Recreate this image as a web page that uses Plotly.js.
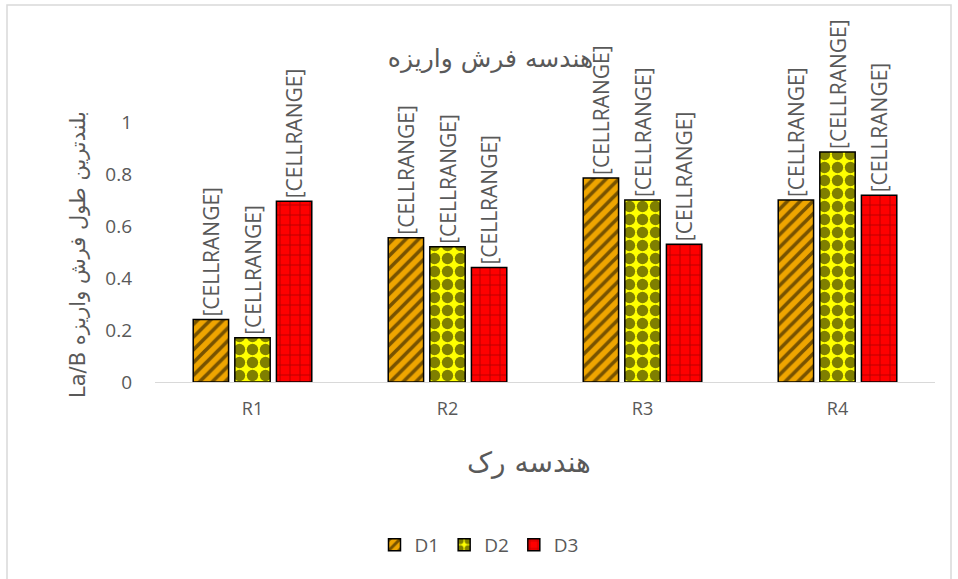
<!DOCTYPE html>
<html>
<head>
<meta charset="utf-8">
<script src="https://cdn.plot.ly/plotly-3.0.1.min.js"></script>
<style>html,body{margin:0;padding:0;background:#fff;}#chart{width:958px;height:579px;}</style>
</head>
<body>
<div id="chart"></div>
<script>
const categories = ["R1", "R2", "R3", "R4"];
const seriesNames = ["D1", "D2", "D3"];
const d1 = [0.24, 0.555, 0.785, 0.70];
const d2 = [0.17, 0.52, 0.70, 0.885];
const d3 = [0.695, 0.44, 0.53, 0.718];
const labelText = "[CELLRANGE]";
const yTicks = [0, 0.2, 0.4, 0.6, 0.8, 1];
const yTickLabels = ["0", "0.2", "0.4", "0.6", "0.8", "1"];

const gray = "#595959";
const fontMain = "Open Sans, DejaVu Sans, sans-serif";
const fontAr = "DejaVu Sans, sans-serif";

function mk(name, vals, color, pattern) {
  return {
    type: "bar", name: name, x: categories, y: vals,
    text: vals.map(() => labelText),
    textposition: "outside", textangle: -90,
    textfont: {family: fontMain, size: 21, color: gray},
    constraintext: "none", cliponaxis: false,
    marker: {color: color, line: {color: "#000", width: 1.5}, pattern: pattern},
    hoverinfo: "x+y"
  };
}

const traces = [
  mk(seriesNames[0], d1, "#EFA500", {shape: "/", fgcolor: "#000", bgcolor: "#EFA500", size: 9, solidity: 0.4, fillmode: "overlay"}),
  mk(seriesNames[1], d2, "#FFFF00", {shape: ".", fgcolor: "#000", bgcolor: "#FFFF00", size: 13, solidity: 0.6, fillmode: "overlay"}),
  mk(seriesNames[2], d3, "#FF0000", {shape: "+", fgcolor: "#7a0000", bgcolor: "#FF0000", size: 10, solidity: 0.2, fillmode: "overlay"})
];

const layout = {
  width: 958, height: 579,
  margin: {l: 155, r: 23, t: 70, b: 197},
  paper_bgcolor: "#fff", plot_bgcolor: "#fff",
  barmode: "group", bargap: 0.36, bargroupgap: 0.15,
  showlegend: true,
  title: {text: "هندسه فرش واریزه", font: {family: fontAr, size: 25, color: gray}, x: 0.512, xref: "container", xanchor: "center", y: 0.9, yref: "container", yanchor: "middle"},
  xaxis: {
    type: "category", showgrid: false, zeroline: false,
    showline: true, linecolor: "#d9d9d9", linewidth: 1.2,
    ticks: "", ticklabelstandoff: 10, tickfont: {family: fontMain, size: 18, color: gray}
  },
  yaxis: {
    range: [0, 1.2], tickvals: yTicks, ticktext: yTickLabels,
    showgrid: false, zeroline: false, showline: false, ticks: "",
    ticklabelstandoff: 22,
    tickfont: {family: fontMain, size: 19, color: gray}
  },
  annotations: [
    {text: "La/B بلندترین طول فرش واریزه", xref: "paper", yref: "paper",
      x: (78-155)/780, y: (382-255)/312, xanchor: "center", yanchor: "middle", textangle: -90, showarrow: false,
      font: {family: fontAr, size: 21, color: gray}},
    {text: "هندسه رک", xref: "paper", yref: "paper",
      x: (529-155)/780, y: (382-462)/312, xanchor: "center", yanchor: "middle", showarrow: false,
      font: {family: fontAr, size: 28, color: gray}}
  ],
  legend: {orientation: "h", x: 0.5, xref: "container", xanchor: "center", y: 0.059, yref: "container", yanchor: "middle",
    font: {family: fontMain, size: 19, color: gray}, itemwidth: 30, traceorder: "normal"},
  shapes: [{type: "rect", xref: "paper", yref: "paper", x0: (7-155)/780, x1: (951-155)/780, y0: (382-600)/312, y1: (382-5)/312,
    line: {color: "#d9d9d9", width: 1.5}, fillcolor: "rgba(0,0,0,0)", layer: "below"}]
};

Plotly.newPlot("chart", traces, layout, {displayModeBar: false, staticPlot: true});
</script>
</body>
</html>
